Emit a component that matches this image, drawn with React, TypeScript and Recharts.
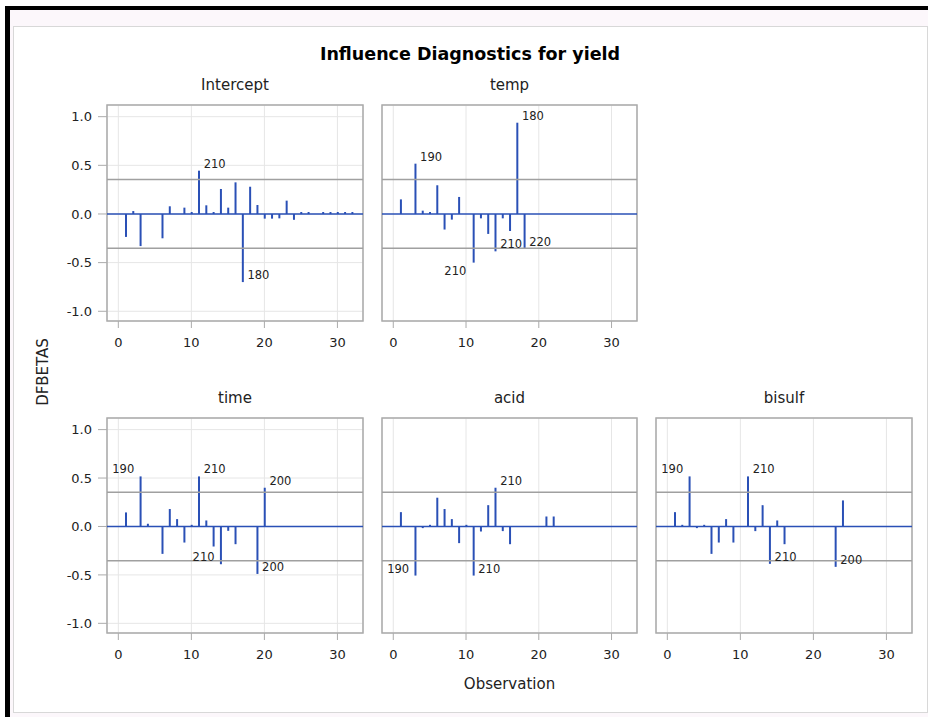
import React from 'react';
import {
  ComposedChart,
  Bar,
  Scatter,
  XAxis,
  YAxis,
  CartesianGrid,
  ReferenceLine,
  ReferenceArea,
} from 'recharts';

// observation numbers shared by every panel
const observations = [
  1, 2, 3, 4, 5, 6, 7, 8, 9, 10, 11, 12, 13, 14, 15, 16,
  17, 18, 19, 20, 21, 22, 23, 24, 25, 26, 27, 28, 29, 30, 31, 32,
];

// DFBETAS per observation, one list per parameter
const interceptValues = [
  -0.236, 0.03, -0.33, 0, 0, -0.25, 0.079, 0, 0.065, 0.02, 0.445, 0.089, 0.02, 0.257, 0.065, 0.325,
  -0.7, 0.28, 0.092, -0.048, -0.048, -0.045, 0.137, -0.06, 0.02, 0.02, 0, 0.02, 0.02, 0.02, 0.02, 0.02,
];
const tempValues = [
  0.15, 0, 0.517, 0.034, 0.02, 0.295, -0.16, -0.058, 0.175, 0, -0.5, -0.045, -0.205, -0.384, -0.045, -0.175,
  0.938, -0.36, 0, 0, 0, 0, 0, 0, 0, 0, 0, 0, 0, 0, 0, 0,
];
const timeValues = [
  0.145, 0, 0.517, 0.028, 0, -0.283, 0.18, 0.076, -0.166, 0.017, 0.517, 0.062, -0.207, -0.39, -0.045, -0.183,
  0, 0, -0.49, 0.4, 0, 0, 0, 0, 0, 0, 0, 0, 0, 0, 0, 0,
];
const acidValues = [
  0.148, 0, -0.507, -0.017, 0.017, 0.297, 0.18, 0.076, -0.172, 0.017, -0.507, -0.052, 0.22, 0.4, -0.048, -0.183,
  0, 0, 0, 0, 0.103, 0.103, 0, 0, 0, 0, 0, 0, 0, 0, 0, 0,
];
const bisulfValues = [
  0.148, 0.017, 0.517, -0.017, 0.017, -0.283, -0.166, 0.076, -0.166, 0, 0.517, -0.048, 0.22, -0.386, 0.062, -0.183,
  0, 0, 0, 0, 0, 0, -0.417, 0.269, 0, 0, 0, 0, 0, 0, 0, 0,
];

// point labels: [observation, label]
const interceptLabels: [number, string][] = [[11, '210'], [17, '180']];
const tempLabels: [number, string][] = [[3, '190'], [11, '210'], [14, '210'], [17, '180'], [18, '220']];
const timeLabels: [number, string][] = [[3, '190'], [11, '210'], [14, '210'], [19, '200'], [20, '200']];
const acidLabels: [number, string][] = [[3, '190'], [11, '210'], [14, '210']];
const bisulfLabels: [number, string][] = [[3, '190'], [11, '210'], [14, '210'], [23, '200']];

const xTicks = [0, 10, 20, 30];
const yTicks = [-1, -0.5, 0, 0.5, 1];
const CUTOFF = 2 / Math.sqrt(observations.length);

const X_DOMAIN: [number, number] = [-1.55, 33.5];
const Y_DOMAIN: [number, number] = [-1.1, 1.12];

const FONT = "'DejaVu Sans', Verdana, sans-serif";
const STEM = '#2a50b6';
const REF = '#a0a0a0';
const FRAME = '#ababab';
const GRID = '#e6e6e6';
const TEXT = '#222';

const AX_W = 50;
const PAD = 6;
const AX_H = 40;

type Side = 'right' | 'left' | 'belowLeft';

interface PanelProps {
  title: string;
  values: number[];
  labels: [number, string][];
  sides?: Record<number, Side>;
  left: number;
  top: number;
  width: number;
  height: number;
  yTicksShown: boolean;
}

function Panel({ title, values, labels, sides = {}, left, top, width, height, yTicksShown }: PanelProps) {
  const rows = observations.map((obs, i) => ({ obs, v: values[i] }));
  const labelRows = labels.map(([obs, text]) => ({
    obs,
    v: values[obs - 1],
    text,
    side: sides[obs] ?? 'right',
  }));

  const renderLabel = (p: any) => {
    const { cx, cy, payload } = p;
    const side: Side = payload.side;
    let x = cx + 5;
    let y = cy - 7;
    let anchor: 'start' | 'end' = 'start';
    if (side === 'left') {
      x = cx - 6;
      anchor = 'end';
    } else if (side === 'belowLeft') {
      x = cx - 7;
      y = cy + 8;
      anchor = 'end';
    }
    return (
      <text x={x} y={y} textAnchor={anchor} dominantBaseline="central" fontSize={11.5} fontFamily={FONT} fill={TEXT}>
        {payload.text}
      </text>
    );
  };

  return (
    <>
      <div
        style={{
          position: 'absolute',
          left: left,
          top: top - 30,
          width: width,
          textAlign: 'center',
          fontFamily: FONT,
          fontSize: 15,
          color: TEXT,
          lineHeight: '20px',
        }}
      >
        {title}
      </div>
      <div style={{ position: 'absolute', left: left - AX_W, top: top - PAD }}>
        <ComposedChart
          width={AX_W + width + PAD}
          height={PAD + height + AX_H}
          data={rows}
          margin={{ top: PAD, right: PAD, bottom: 0, left: 0 }}
        >
          <CartesianGrid stroke={GRID} strokeWidth={1} />
          <XAxis
            type="number"
            dataKey="obs"
            domain={X_DOMAIN}
            ticks={xTicks}
            allowDataOverflow
            height={AX_H}
            axisLine={false}
            tickSize={7}
            tickMargin={10}
            tickLine={{ stroke: FRAME }}
            tick={{ fill: TEXT, fontSize: 13, fontFamily: FONT }}
          />
          <YAxis
            type="number"
            domain={Y_DOMAIN}
            ticks={yTicks}
            allowDataOverflow
            width={AX_W}
            axisLine={false}
            tickSize={9}
            tickMargin={6}
            tickLine={yTicksShown ? { stroke: FRAME } : false}
            tick={yTicksShown ? { fill: TEXT, fontSize: 13, fontFamily: FONT } : false}
            tickFormatter={(v: number) => v.toFixed(1)}
          />
          <ReferenceLine y={CUTOFF} stroke={REF} strokeWidth={1.5} />
          <ReferenceLine y={-CUTOFF} stroke={REF} strokeWidth={1.5} />
          <ReferenceLine y={0} stroke={STEM} strokeWidth={1.6} />
          <Bar dataKey="v" barSize={2} fill={STEM} isAnimationActive={false} />
          <Scatter data={labelRows} dataKey="v" shape={renderLabel} isAnimationActive={false} />
          <ReferenceArea
            x1={X_DOMAIN[0]}
            x2={X_DOMAIN[1]}
            y1={Y_DOMAIN[0]}
            y2={Y_DOMAIN[1]}
            fill="none"
            fillOpacity={0}
            stroke={FRAME}
            strokeWidth={1.5}
          />
        </ComposedChart>
      </div>
    </>
  );
}

export default function App() {
  return (
    <div style={{ position: 'absolute', left: 0, top: 0, width: 928, height: 717, background: '#fff', overflow: 'hidden' }}>
      {/* window chrome around the output */}
      <div style={{ position: 'absolute', left: 5, top: 6, width: 923, height: 711, background: '#000' }} />
      <div style={{ position: 'absolute', left: 10, top: 10, width: 918, height: 707, background: '#fcf7fb' }} />
      <div
        style={{
          position: 'absolute',
          left: 13,
          top: 26,
          width: 913,
          height: 685,
          background: '#fff',
          border: '1px solid #d8d8d8',
        }}
      />

      <div
        style={{
          position: 'absolute',
          left: 270,
          top: 42,
          width: 400,
          textAlign: 'center',
          fontFamily: FONT,
          fontWeight: 'bold',
          fontSize: 17.5,
          color: '#000',
          lineHeight: '24px',
        }}
      >
        Influence Diagnostics for yield
      </div>

      <Panel title="Intercept" values={interceptValues} labels={interceptLabels}
        left={107} top={105} width={256} height={216} yTicksShown />
      <Panel title="temp" values={tempValues} labels={tempLabels} sides={{ 11: 'belowLeft' }}
        left={382} top={105} width={255} height={216} yTicksShown={false} />
      <Panel title="time" values={timeValues} labels={timeLabels} sides={{ 3: 'left', 14: 'left' }}
        left={107} top={418} width={256} height={215} yTicksShown />
      <Panel title="acid" values={acidValues} labels={acidLabels} sides={{ 3: 'left' }}
        left={382} top={418} width={255} height={215} yTicksShown={false} />
      <Panel title="bisulf" values={bisulfValues} labels={bisulfLabels} sides={{ 3: 'left' }}
        left={656} top={418} width={256} height={215} yTicksShown={false} />

      <div
        style={{
          position: 'absolute',
          left: 43,
          top: 372,
          fontFamily: FONT,
          fontSize: 15,
          color: TEXT,
          lineHeight: '18px',
          transform: 'translate(-50%, -50%) rotate(-90deg)',
          whiteSpace: 'nowrap',
        }}
      >
        DFBETAS
      </div>
      <div
        style={{
          position: 'absolute',
          left: 382,
          top: 674,
          width: 255,
          textAlign: 'center',
          fontFamily: FONT,
          fontSize: 15,
          color: TEXT,
          lineHeight: '20px',
        }}
      >
        Observation
      </div>
    </div>
  );
}
